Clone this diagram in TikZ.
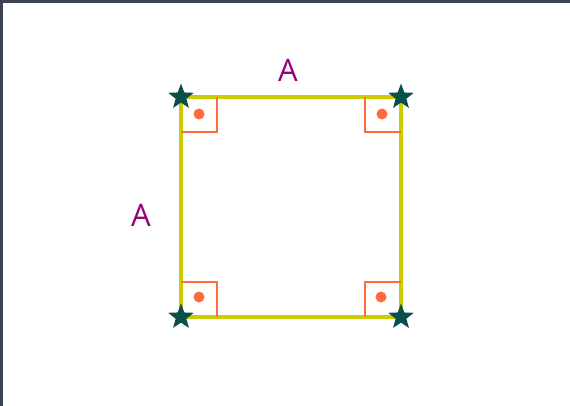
\documentclass[tikz,border=0pt]{standalone}
\usepackage{fontspec}
\setmainfont{Open Sans}
\usetikzlibrary{shapes.geometric}
\definecolor{framegray}{HTML}{3B4252}
\definecolor{sideyellow}{HTML}{CCCC00}
\definecolor{markorange}{HTML}{FF6B3D}
\definecolor{stargreen}{HTML}{0B4F4C}
\definecolor{labelpurple}{HTML}{990077}

\begin{document}
\begin{tikzpicture}[
        x=1pt, y=-1pt,
        side/.style={draw=sideyellow,line width=4.5pt},
        rightmark/.style={draw=markorange,line width=2.2pt},
        markdot/.style={circle,fill=markorange,inner sep=0pt,minimum size=11pt},
        cornerstar/.style={star,star points=5,star point ratio=2.4,fill=stargreen,inner sep=0pt,minimum size=27pt},
        sidelabel/.style={text=labelpurple,font=\fontsize{31}{33}\selectfont},
        ]
        \useasboundingbox (0,0) rectangle (570,406);
        \fill[framegray] (0,0) rectangle (570,3);
        \fill[framegray] (0,0) rectangle (3,406);

        \coordinate (tl) at (181,97);
        \coordinate (tr) at (401,97);
        \coordinate (br) at (401,317);
        \coordinate (bl) at (181,317);

        \draw[side] (tl) -- (tr) -- (br) -- (bl) -- cycle;

        % right angle marks
        \draw[rightmark] (tl) ++(36,0) |- ++(-36,35);
        \draw[rightmark] (tr) ++(-36,0) |- ++(36,35);
        \draw[rightmark] (bl) ++(36,0) |- ++(-36,-35);
        \draw[rightmark] (br) ++(-36,0) |- ++(36,-35);
        \node[markdot](dot_tl) at (199,114){};
        \node[markdot](dot_tr) at (382,114){};
        \node[markdot](dot_bl) at (199,297){};
        \node[markdot](dot_br) at (381,297){};

        \node[cornerstar](star_tl) at (tl){};
        \node[cornerstar](star_tr) at (tr){};
        \node[cornerstar](star_br) at (br){};
        \node[cornerstar](star_bl) at (bl){};

        \node[sidelabel](lab_top) at (288,70){A};
        \node[sidelabel](lab_left) at (141,215){A};
\end{tikzpicture}
\end{document}
